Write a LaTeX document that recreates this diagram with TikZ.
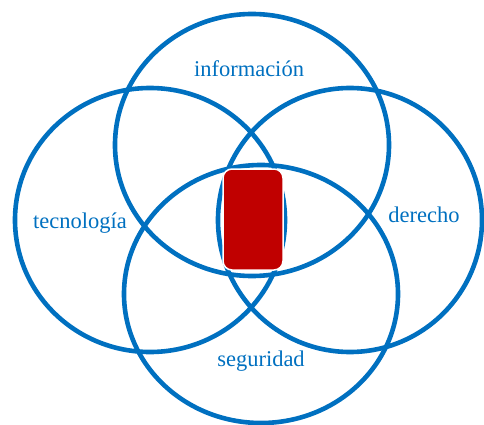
\documentclass[tikz,border=0pt]{standalone}
\usepackage{fontspec}
\setmainfont{Liberation Serif}
\definecolor{ringblue}{HTML}{0070C0}
\definecolor{coredred}{HTML}{C00000}
\tikzset{
    ring/.style={draw=ringblue, line width=4.6pt},
    tag/.style={text=ringblue, font=\fontsize{22.5}{26}\selectfont, inner sep=0pt},
    core/.style={fill=coredred, draw=white, line width=1.5pt, rounded corners=9pt}
}
\begin{document}
\begin{tikzpicture}[x=1pt, y=-1pt]
            \useasboundingbox (0, 0) rectangle (484, 425);
            % the four sets
            \draw[ring] (252, 145) ellipse [x radius=137, y radius=131];
            \draw[ring] (150, 220) ellipse [x radius=135, y radius=132];
            \draw[ring] (350, 220) ellipse [x radius=132, y radius=132];
            \draw[ring] (261, 294) ellipse [x radius=137, y radius=129];
            % common part
            \draw[core] (223, 169) rectangle (283, 270);
            \node[tag] (info) at (249, 69) {información};
            \node[tag] (tec) at (80, 223) {tecnología};
            \node[tag] (der) at (424, 215) {derecho};
            \node[tag] (seg) at (261, 361) {seguridad};
        \end{tikzpicture}
\end{document}
